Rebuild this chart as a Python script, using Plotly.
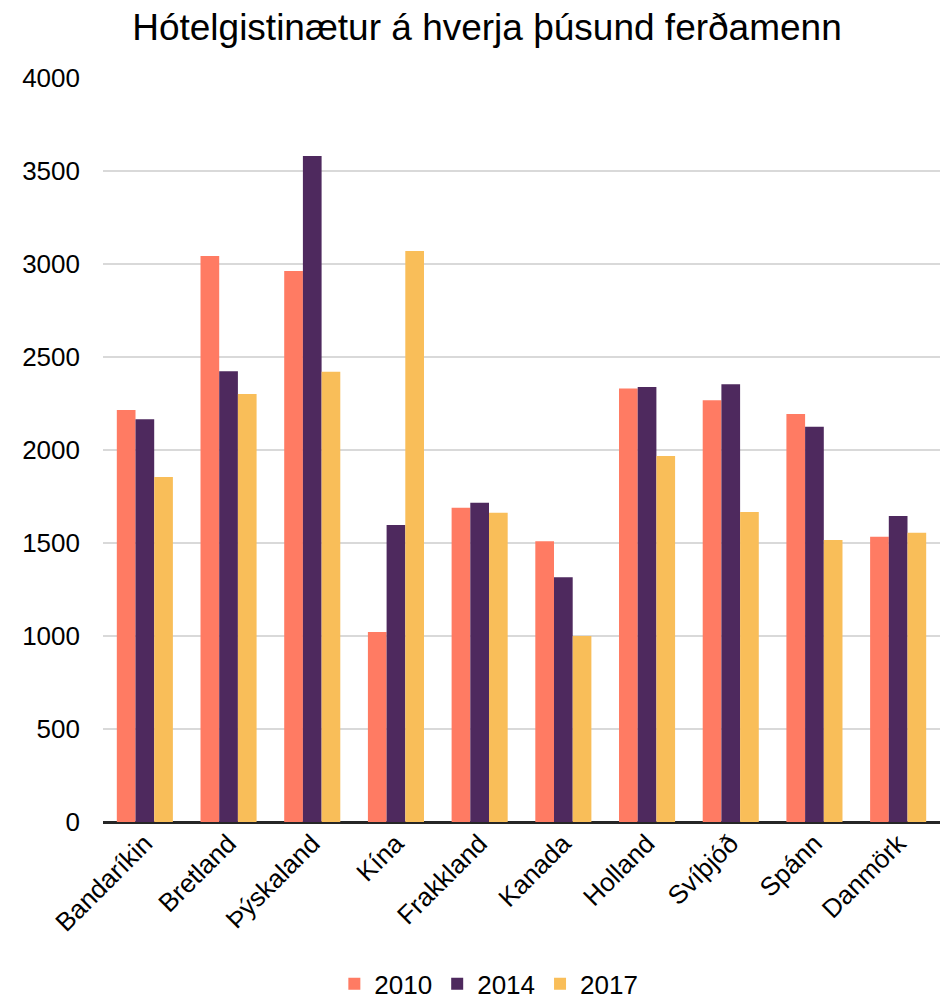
import plotly.graph_objects as go

categories = ["Bandaríkin", "Bretland", "Þýskaland", "Kína", "Frakkland",
              "Kanada", "Holland", "Svíþjóð", "Spánn", "Danmörk"]
v2010 = [2215, 3043, 2962, 1021, 1690, 1509, 2330, 2267, 2194, 1534]
v2014 = [2165, 2423, 3580, 1597, 1716, 1316, 2339, 2353, 2125, 1645]
v2017 = [1855, 2301, 2421, 3070, 1663, 1000, 1968, 1667, 1516, 1555]
years = ["2010", "2014", "2017"]
colors = ["#FF7B63", "#4E295E", "#F9BE59"]

fig = go.Figure()
for name, vals, col in zip(years, [v2010, v2014, v2017], colors):
    fig.add_trace(go.Bar(x=categories, y=vals, name=name, marker_color=col,
                         marker_line_width=0))

font = "Liberation Sans, Arial, sans-serif"
fig.update_layout(
    width=941, height=994,
    margin=dict(l=95, r=9, t=70, b=180),
    paper_bgcolor="white", plot_bgcolor="white",
    font=dict(family=font, size=26, color="#000000"),
    title=dict(text="Hótelgistinætur á hverja þúsund ferðamenn",
               x=0.509, xanchor="center", y=0.981, yanchor="middle",
               font=dict(size=37, family=font, color="#000000")),
    barmode="group", bargap=0.33, bargroupgap=0,
    legend=dict(orientation="h", x=0.511, xref="container", xanchor="center",
                y=0.042, yref="container", yanchor="top",
                font=dict(size=26), itemwidth=30, tracegroupgap=0),
    xaxis=dict(tickangle=-45, tickfont=dict(size=26), showgrid=False,
               showline=False, ticks="", automargin=False),
    yaxis=dict(range=[0, 4000], dtick=500, showgrid=True, gridcolor="#D9D9D9",
               gridwidth=1.5, zeroline=True, zerolinecolor="#262626",
               zerolinewidth=3, tickfont=dict(size=26), ticks="",
               ticklabelstandoff=22, automargin=False),
)
fig.write_html("out.html")
